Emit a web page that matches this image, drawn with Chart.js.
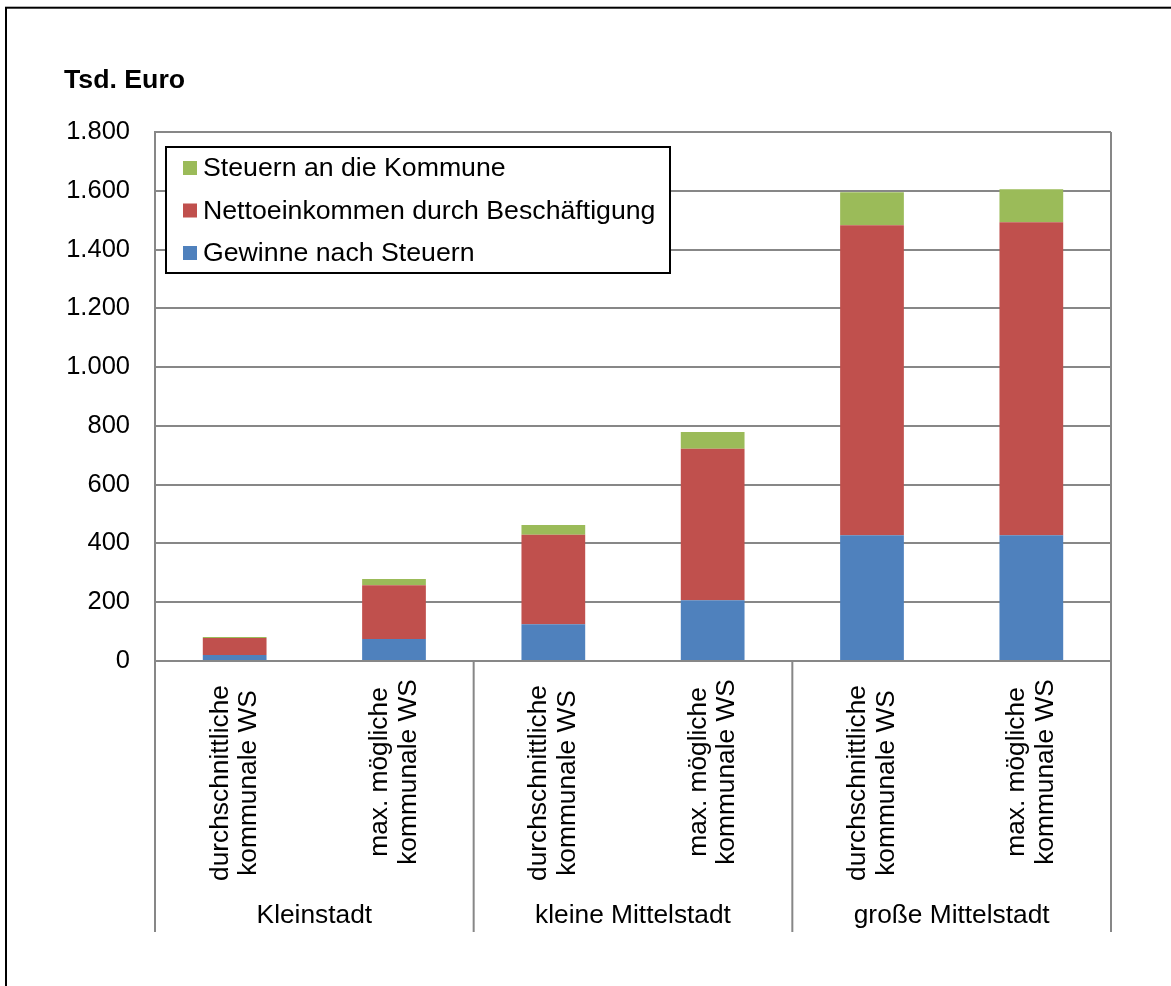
<!DOCTYPE html>
<html>
<head>
<meta charset="utf-8">
<script src="https://cdn.jsdelivr.net/npm/chart.js@4.4.1/dist/chart.umd.min.js"></script>
<style>
  body { margin: 0; background: #fff; }
  #wrap { width: 1171px; height: 986px; }
</style>
</head>
<body>
<div id="wrap"><canvas id="chart" width="1171" height="986"></canvas></div>
<script>
const categories = [
  ['durchschnittliche', 'kommunale WS'],
  ['max. mögliche', 'kommunale WS'],
  ['durchschnittliche', 'kommunale WS'],
  ['max. mögliche', 'kommunale WS'],
  ['durchschnittliche', 'kommunale WS'],
  ['max. mögliche', 'kommunale WS']
];
const groups = ['Kleinstadt', 'kleine Mittelstadt', 'große Mittelstadt'];

const gewinne = [20, 75, 125, 207, 428, 428];
const netto = [58, 183, 305, 515, 1055, 1065];
const steuern = [4, 21, 33, 57, 112, 112];

const yTicks = [0, 200, 400, 600, 800, 1000, 1200, 1400, 1600, 1800];

const FONT = '"Liberation Sans", Arial, sans-serif';
const GRID = '#878787';

function fmt(v) {
  return String(v).replace(/\B(?=(\d{3})+(?!\d))/g, '.');
}

// frame, title, plot border, category labels, legend
const decor = {
  id: 'decor',
  beforeDatasetsDraw(chart) {
    const ctx = chart.ctx;
    const a = chart.chartArea;
    ctx.save();
    ctx.strokeStyle = GRID;
    ctx.lineWidth = 2;
    ctx.beginPath();
    ctx.moveTo(a.right, a.top);
    ctx.lineTo(a.right, a.bottom);
    ctx.moveTo(a.left, a.top);
    ctx.lineTo(a.right, a.top);
    ctx.stroke();
    ctx.restore();
  },
  afterDraw(chart) {
    const ctx = chart.ctx;
    const a = chart.chartArea;
    const x = chart.scales.x;
    ctx.save();

    // outer frame
    ctx.strokeStyle = '#000';
    ctx.lineWidth = 2;
    ctx.strokeRect(6, 7.7, 1300, 1100);

    // unit label
    ctx.fillStyle = '#000';
    ctx.font = 'bold 26.7px ' + FONT;
    ctx.textAlign = 'left';
    ctx.textBaseline = 'alphabetic';
    ctx.fillText('Tsd. Euro', 64, 88);

    // group separators
    ctx.strokeStyle = GRID;
    ctx.lineWidth = 2;
    const seps = [a.left];
    for (let g = 1; g < groups.length; g++) {
      seps.push((x.getPixelForValue(g * 2 - 1) + x.getPixelForValue(g * 2)) / 2);
    }
    seps.push(a.right);
    ctx.beginPath();
    seps.forEach(s => {
      ctx.moveTo(s, a.bottom);
      ctx.lineTo(s, 932);
    });
    ctx.stroke();

    // rotated category labels
    ctx.font = '26.3px ' + FONT;
    ctx.textAlign = 'center';
    ctx.textBaseline = 'middle';
    categories.forEach((lines, i) => {
      const px = x.getPixelForValue(i);
      const cy = i % 2 === 0 ? 783 : 772;
      ctx.save();
      ctx.translate(px, cy);
      ctx.rotate(-Math.PI / 2);
      lines.forEach((t, j) => {
        ctx.fillText(t, 0, (j - (lines.length - 1) / 2) * 28.5);
      });
      ctx.restore();
    });

    // group labels
    ctx.textBaseline = 'alphabetic';
    groups.forEach((g, k) => {
      ctx.fillText(g, (seps[k] + seps[k + 1]) / 2, 923);
    });

    // legend
    const lx = 166, ly = 147, lw = 504, lh = 126;
    ctx.fillStyle = '#fff';
    ctx.fillRect(lx, ly, lw, lh);
    ctx.strokeStyle = '#000';
    ctx.lineWidth = 2;
    ctx.strokeRect(lx, ly, lw, lh);
    const items = chart.data.datasets.slice().reverse();
    ctx.font = '26.7px ' + FONT;
    ctx.textAlign = 'left';
    ctx.textBaseline = 'middle';
    items.forEach((ds, k) => {
      const cy = 168 + k * 42.5;
      ctx.fillStyle = ds.backgroundColor;
      ctx.fillRect(183, cy - 7, 14, 14);
      ctx.fillStyle = '#000';
      ctx.fillText(ds.label, 203, cy + 1);
    });

    ctx.restore();
  }
};

new Chart(document.getElementById('chart'), {
  type: 'bar',
  data: {
    labels: categories.map(c => c.join(' ')),
    datasets: [
      { label: 'Gewinne nach Steuern', data: gewinne, backgroundColor: '#4F81BD' },
      { label: 'Nettoeinkommen durch Beschäftigung', data: netto, backgroundColor: '#C0504D' },
      { label: 'Steuern an die Kommune', data: steuern, backgroundColor: '#9BBB59' }
    ]
  },
  options: {
    responsive: false,
    animation: false,
    layout: { padding: { left: 0, top: 132, right: 60, bottom: 325 } },
    datasets: { bar: { categoryPercentage: 1, barPercentage: 0.4, borderWidth: 0 } },
    plugins: {
      legend: { display: false },
      tooltip: { enabled: false }
    },
    scales: {
      x: {
        stacked: true,
        grid: { display: false },
        border: { display: true, color: GRID, width: 2 },
        ticks: { display: false },
        afterFit(scale) { scale.height = 0; }
      },
      y: {
        stacked: true,
        min: 0,
        max: 1800,
        afterBuildTicks(scale) { scale.ticks = yTicks.map(v => ({ value: v })); },
        grid: { color: GRID, lineWidth: 2, drawTicks: false },
        border: { display: true, color: GRID, width: 2 },
        ticks: {
          padding: 25,
          color: '#000',
          font: { family: FONT, size: 25.5 },
          callback: v => fmt(v)
        },
        afterFit(scale) { scale.width = 155; }
      }
    }
  },
  plugins: [decor]
});
</script>
</body>
</html>
